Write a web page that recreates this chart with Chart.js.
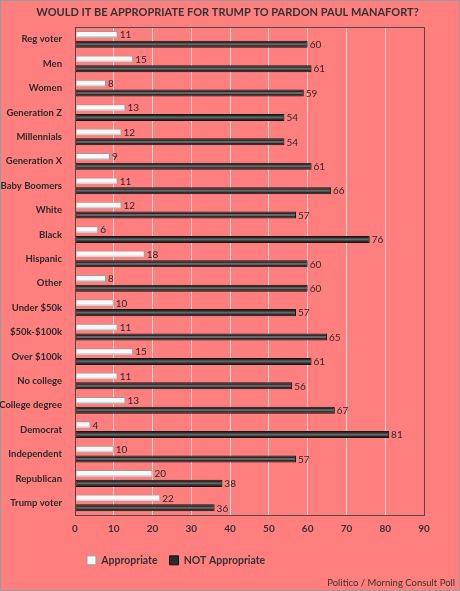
<!DOCTYPE html>
<html>
<head>
<meta charset="utf-8">
<script src="https://cdn.jsdelivr.net/npm/chart.js@4"></script>
<style>
  html, body { margin: 0; padding: 0; background: #ff7f7f; }
  #wrap { width: 460px; height: 591px; position: relative; }
</style>
</head>
<body>
<div id="wrap"><canvas id="pardon-chart"></canvas></div>
<script>
    const categories = ['Reg voter', 'Men', 'Women', 'Generation Z', 'Millennials', 'Generation X',
        'Baby Boomers', 'White', 'Black', 'Hispanic', 'Other', 'Under $50k', '$50k-$100k',
        'Over $100k', 'No college', 'College degree', 'Democrat', 'Independent', 'Republican', 'Trump voter'];
    const appropriate = [11, 15, 8, 13, 12, 9, 11, 12, 6, 18, 8, 10, 11, 15, 11, 13, 4, 10, 20, 22];
    const notAppropriate = [60, 61, 59, 54, 54, 61, 66, 57, 76, 60, 60, 57, 65, 61, 56, 67, 81, 57, 38, 36];
    const xTicks = [0, 10, 20, 30, 40, 50, 60, 70, 80, 90];

    Chart.defaults.font.family = "Lato, 'Open Sans', sans-serif";
    Chart.defaults.color = '#333';

    // background, plot frame, outer border, bar shine and value labels
    const frame = {
        id: 'frame',
        beforeDraw(chart) {
            const c = chart.ctx;
            c.save();
            c.fillStyle = '#ff7f7f';
            c.fillRect(0, 0, chart.width, chart.height);
            c.strokeStyle = '#9a9a9a';
            c.lineWidth = 1;
            c.strokeRect(0.5, 0.5, chart.width - 1, chart.height - 1);
            c.restore();
        },
        afterDatasetsDraw(chart) {
            const a = chart.chartArea, c = chart.ctx;
            c.save();
            // lighter stripe through the dark bars
            c.fillStyle = '#676767';
            chart.getDatasetMeta(1).data.forEach(bar => {
                c.fillRect(bar.base + 1, bar.y - 1, bar.x - bar.base - 2, 2);
            });
            c.fillStyle = '#d4d4d4';
            chart.getDatasetMeta(0).data.forEach(bar => {
                c.fillRect(bar.base + 1, bar.y + 1.5, bar.x - bar.base - 2, 1.5);
            });
            c.strokeStyle = '#4a4a4a';
            c.lineWidth = 1;
            c.strokeRect(Math.round(a.left) + 0.5, Math.round(a.top) + 0.5,
                Math.round(a.right - a.left), Math.round(a.bottom - a.top));
            c.font = "10px Lato, 'Open Sans', sans-serif";
            c.fillStyle = '#2a2a2a';
            c.textBaseline = 'middle';
            chart.data.datasets.forEach((ds, i) => {
                chart.getDatasetMeta(i).data.forEach((bar, j) => {
                    c.fillText(ds.data[j], bar.x + 2, bar.y + 0.5);
                });
            });
            c.restore();
        }
    };

    let pardonChart = new Chart(document.getElementById('pardon-chart'), {
        type: 'bar',
        data: {
            labels: categories,
            datasets: [
                {
                    label: 'Appropriate',
                    data: appropriate,
                    backgroundColor: '#f8f8f8',
                    borderColor: '#9c9c9c',
                    borderWidth: 1,
                    borderSkipped: false,
                    categoryPercentage: 0.8,
                    barPercentage: 0.72
                },
                {
                    label: 'NOT Appropriate',
                    data: notAppropriate,
                    backgroundColor: '#2a2a2a',
                    borderColor: '#141414',
                    borderWidth: 1,
                    borderSkipped: false,
                    categoryPercentage: 0.8,
                    barPercentage: 0.72
                }
            ]
        },
        options: {
            indexAxis: 'y',
            responsive: true,
            maintainAspectRatio: false,
            animation: false,
            layout: { padding: { left: 0, right: 5, top: 4, bottom: 2 } },
            scales: {
                x: {
                    min: 0, max: 90,
                    afterBuildTicks(scale) { scale.ticks = xTicks.map(v => ({ value: v })); },
                    grid: { color: 'rgba(255,225,225,0.85)', drawTicks: false },
                    border: { display: false },
                    ticks: { font: { size: 10, weight: 'bold' }, color: '#333', padding: 8 }
                },
                y: {
                    grid: { display: false },
                    border: { display: false },
                    afterFit(scale) { scale.width = 75; },
                    ticks: { font: { size: 9.5, weight: 'bold' }, color: '#2a2a2a', padding: 5 }
                },
                // empty right-hand gutter so the title centres on the whole canvas
                yGap: {
                    type: 'category',
                    position: 'right',
                    grid: { display: false },
                    border: { display: false },
                    ticks: { display: false },
                    afterFit(scale) { scale.width = 31; }
                }
            },
            plugins: {
                title: {
                    display: true,
                    text: 'WOULD IT BE APPROPRIATE FOR TRUMP TO PARDON PAUL MANAFORT?',
                    font: { size: 11, weight: 'bold' },
                    color: '#333',
                    padding: { top: 2, bottom: 8 }
                },
                subtitle: {
                    display: true,
                    position: 'bottom',
                    align: 'end',
                    text: 'Politico / Morning Consult Poll',
                    font: { size: 9.5 },
                    color: '#333',
                    padding: { top: 2, bottom: 0 }
                },
                legend: {
                    position: 'bottom',
                    align: 'start',
                    fullSize: false,
                    labels: {
                        boxWidth: 9, boxHeight: 9,
                        font: { size: 10.5, weight: 'bold' },
                        color: '#333',
                        padding: 12
                    }
                },
                tooltip: { enabled: false }
            }
        },
        plugins: [frame]
    });
</script>
</body>
</html>
